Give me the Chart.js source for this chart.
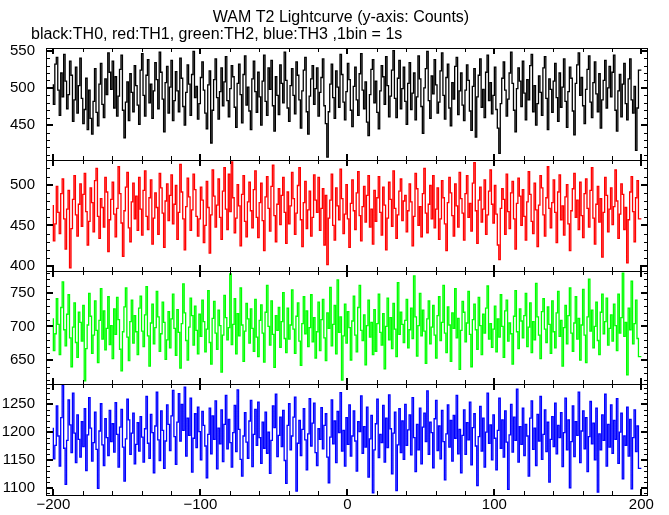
<!DOCTYPE html>
<html>
<head>
<meta charset="utf-8">
<script src="https://cdn.jsdelivr.net/npm/chart.js@4/dist/chart.umd.min.js"></script>
<style>
  body { margin: 0; background: #fff; }
  canvas { display: block; }
</style>
</head>
<body>
<canvas id="lc" width="669" height="515"></canvas>
<script>
// counts per 1 s bin, bins start at t = -200 .. 199
let th0 = [
  505, 478, 532, 541, 497, 463, 520, 488, 545, 509, 472, 491, 536, 517, 455, 484, 528, 466, 503, 540,
  486, 452, 471, 513, 444, 497, 459, 438, 482, 526, 467, 449, 505, 533, 478, 460, 512, 491, 547, 521,
  498, 536, 473, 515, 462, 489, 525, 544, 470, 433, 481, 508, 456, 519, 494, 468, 530, 503, 477, 451,
  524, 546, 490, 462, 517, 538, 480, 505, 459, 496, 534, 511, 472, 548, 521, 485, 441, 507, 529, 466,
  501, 537, 456, 483, 522, 496, 468, 540, 513, 475, 450, 494, 531, 505, 463, 518, 549, 487, 502, 458,
  479, 514, 535, 497, 466, 445, 504, 523, 426, 470, 511, 539, 487, 458, 495, 527, 476, 508, 542, 483,
  461, 499, 530, 515, 474, 447, 506, 532, 491, 453, 518, 543, 477, 501, 469, 444, 512, 536, 495, 467,
  521, 488, 450, 509, 544, 482, 463, 527, 498, 537, 476, 442, 515, 490, 464, 531, 506, 480, 548, 510,
  473, 455, 503, 526, 490, 465, 535, 517, 484, 446, 496, 524, 541, 468, 438, 489, 512, 530, 478, 499,
  527, 462, 494, 514, 539, 476, 452, 407, 468, 505, 532, 487, 459, 523, 501, 474, 545, 518, 481, 457,
  495, 533, 511, 470, 448, 502, 528, 484, 463, 519, 546, 497, 472, 508, 454, 436, 491, 525, 538, 480,
  509, 467, 445, 496, 530, 515, 478, 542, 503, 461, 489, 524, 550, 486, 460, 513, 537, 472, 499, 528,
  482, 451, 506, 534, 471, 493, 520, 457, 488, 543, 512, 475, 439, 500, 526, 549, 483, 459, 516, 492,
  538, 504, 466, 481, 523, 547, 490, 458, 514, 532, 473, 449, 507, 485, 529, 541, 464, 496, 520, 477,
  456, 497, 531, 510, 469, 443, 502, 526, 434, 488, 517, 539, 474, 498, 460, 521, 544, 483, 507, 465,
  490, 528, 471, 446, 412, 479, 513, 535, 497, 462, 485, 520, 548, 506, 470, 441, 499, 527, 509, 475,
  536, 493, 457, 511, 484, 530, 545, 468, 503, 450, 479, 516, 494, 463, 527, 542, 486, 444, 512, 498,
  467, 509, 533, 487, 455, 520, 474, 501, 539, 482, 447, 495, 528, 513, 469, 437, 506, 531, 547, 490,
  514, 476, 452, 498, 525, 543, 481, 460, 507, 535, 492, 468, 519, 446, 484, 510, 537, 473, 500, 529,
  488, 521, 544, 470, 442, 496, 518, 461, 505, 533, 479, 457, 512, 539, 484, 466, 502, 416, 473, 524
];
let th1 = [
  475, 431, 452, 498, 466, 440, 489, 507, 458, 421, 470, 493, 398, 446, 482, 511, 463, 437, 476, 501,
  449, 488, 514, 467, 426, 455, 496, 478, 442, 505, 520, 461, 434, 483, 472, 448, 509, 491, 418, 457,
  482, 503, 464, 436, 471, 522, 489, 453, 412, 468, 497, 515, 447, 430, 479, 502, 458, 486, 444, 509,
  470, 438, 493, 517, 461, 445, 484, 506, 427, 459, 490, 472, 439, 514, 496, 465, 423, 480, 501, 456,
  487, 512, 452, 476, 499, 433, 466, 525, 491, 458, 420, 473, 508, 485, 444, 469, 513, 494, 461, 437,
  458, 497, 481, 429, 450, 504, 472, 416, 463, 518, 486, 448, 475, 507, 460, 433, 492, 521, 470, 445,
  513, 467, 528, 484, 441, 459, 500, 474, 425, 488, 511, 455, 436, 479, 503, 468, 447, 494, 517, 460,
  435, 478, 502, 456, 419, 485, 510, 471, 443, 498, 524, 462, 430, 476, 495, 451, 487, 509, 466, 428,
  491, 452, 474, 515, 483, 439, 465, 499, 521, 457, 424, 478, 504, 446, 469, 492, 437, 460, 512, 481,
  466, 509, 444, 471, 495, 426, 487, 402, 459, 481, 513, 450, 432, 496, 474, 457, 519, 483, 440, 464,
  500, 458, 423, 477, 506, 468, 445, 490, 516, 462, 431, 473, 498, 454, 487, 511, 448, 470, 427, 493,
  455, 484, 510, 466, 438, 497, 475, 420, 459, 503, 482, 449, 517, 471, 434, 463, 492, 507, 456, 480,
  487, 442, 468, 501, 479, 425, 461, 514, 495, 450, 473, 436, 489, 520, 465, 441, 476, 499, 458, 511,
  447, 470, 496, 433, 458, 505, 484, 452, 419, 478, 509, 490, 462, 437, 501, 474, 448, 515, 483, 465,
  432, 489, 511, 460, 477, 443, 502, 527, 468, 428, 481, 497, 454, 470, 506, 439, 463, 492, 518, 476,
  453, 499, 464, 426, 408, 471, 495, 482, 439, 513, 467, 446, 490, 504, 458, 421, 477, 508, 486, 450,
  494, 461, 432, 479, 516, 488, 455, 440, 502, 469, 424, 475, 511, 496, 463, 437, 484, 522, 471, 447,
  478, 506, 466, 429, 491, 512, 457, 474, 438, 485, 500, 452, 419, 468, 495, 514, 460, 481, 445, 503,
  462, 435, 489, 507, 471, 448, 493, 521, 459, 427, 476, 498, 454, 483, 411, 466, 509, 487, 442, 470,
  496, 451, 473, 518, 480, 434, 464, 501, 488, 445, 472, 404, 457, 491, 510, 467, 430, 484, 505, 458
];
let th2 = [
  712, 664, 689, 741, 703, 658, 728, 766, 695, 671, 718, 747, 683, 640, 699, 735, 676, 654, 721, 706,
  678, 731, 619, 667, 702, 749, 715, 660, 687, 738, 694, 646, 709, 756, 681, 723, 665, 697, 744, 673,
  701, 652, 726, 688, 743, 710, 666, 634, 692, 729, 757, 684, 649, 707, 739, 675, 716, 692, 658, 727,
  745, 693, 670, 717, 759, 686, 641, 705, 733, 674, 698, 752, 714, 663, 689, 736, 706, 651, 680, 722,
  668, 711, 748, 697, 657, 725, 691, 638, 704, 763, 720, 679, 650, 699, 742, 716, 672, 730, 694, 659,
  718, 685, 739, 707, 662, 696, 753, 676, 644, 712, 737, 690, 666, 724, 701, 632, 687, 746, 713, 680,
  698, 778, 673, 703, 741, 659, 719, 686, 757, 702, 648, 693, 734, 711, 675, 726, 697, 663, 740, 684,
  655, 709, 732, 690, 647, 721, 761, 700, 672, 738, 688, 639, 716, 694, 728, 669, 707, 750, 682, 661,
  727, 681, 702, 754, 696, 660, 715, 735, 678, 642, 704, 744, 689, 723, 670, 698, 747, 677, 713, 653,
  692, 736, 664, 710, 740, 683, 649, 720, 697, 758, 671, 703, 731, 659, 769, 691, 714, 620, 686, 733,
  675, 722, 698, 650, 708, 745, 687, 662, 728, 761, 694, 679, 717, 643, 701, 739, 684, 706, 658, 725,
  663, 704, 748, 691, 672, 719, 637, 700, 742, 680, 713, 667, 734, 696, 655, 765, 688, 721, 703, 676,
  709, 740, 668, 695, 727, 682, 775, 714, 656, 701, 749, 686, 724, 693, 645, 711, 738, 674, 699, 731,
  687, 653, 716, 744, 679, 706, 761, 690, 661, 729, 702, 648, 720, 697, 756, 683, 712, 636, 694, 737,
  721, 677, 705, 752, 688, 640, 710, 733, 695, 666, 743, 701, 658, 718, 690, 727, 760, 681, 704, 669,
  696, 730, 662, 711, 684, 747, 700, 654, 723, 739, 678, 705, 689, 644, 715, 753, 692, 667, 726, 708,
  683, 716, 749, 670, 699, 735, 661, 707, 680, 764, 714, 687, 652, 722, 741, 696, 676, 729, 703, 660,
  738, 692, 668, 720, 752, 685, 709, 641, 698, 731, 674, 716, 757, 690, 663, 705, 744, 681, 712, 650,
  702, 755, 687, 646, 714, 770, 693, 724, 668, 700, 736, 679, 658, 721, 748, 689, 707, 742, 672, 697,
  717, 678, 733, 701, 664, 748, 690, 713, 779, 685, 706, 628, 727, 695, 767, 674, 704, 739, 682, 655
];
let th3 = [
  1208, 1152, 1176, 1247, 1193, 1139, 1226, 1284, 1171, 1106, 1185, 1258, 1213, 1163, 1270, 1198, 1145, 1231, 1187, 1155,
  1219, 1174, 1242, 1131, 1195, 1262, 1207, 1148, 1181, 1236, 1169, 1099, 1202, 1251, 1177, 1140, 1224, 1190, 1158, 1239,
  1183, 1215, 1164, 1253, 1196, 1137, 1209, 1241, 1173, 1112, 1188, 1259, 1222, 1160, 1198, 1234, 1143, 1178, 1217, 1166,
  1228, 1191, 1146, 1206, 1264, 1180, 1153, 1232, 1199, 1127, 1211, 1272, 1186, 1149, 1238, 1203, 1135, 1184, 1249, 1214,
  1167, 1229, 1275, 1192, 1142, 1218, 1269, 1184, 1250, 1203, 1281, 1157, 1225, 1194, 1261, 1128, 1189, 1233, 1172, 1245,
  1201, 1150, 1237, 1212, 1175, 1118, 1196, 1243, 1161, 1229, 1187, 1256, 1134, 1207, 1179, 1240, 1147, 1214, 1266, 1170,
  1223, 1181, 1137, 1199, 1248, 1165, 1276, 1205, 1151, 1121, 1193, 1235, 1182, 1153, 1220, 1257, 1138, 1196, 1241, 1176,
  1254, 1190, 1144, 1218, 1171, 1236, 1162, 1200, 1126, 1185, 1247, 1208, 1268, 1156, 1194, 1227, 1174, 1239, 1149, 1108,
  1212, 1251, 1168, 1193, 1227, 1263, 1094, 1180, 1221, 1158, 1205, 1242, 1186, 1132, 1197, 1260, 1175, 1216, 1252, 1163,
  1140, 1206, 1187, 1244, 1170, 1212, 1233, 1155, 1109, 1191, 1258, 1179, 1220, 1145, 1237, 1199, 1271, 1166, 1203, 1139,
  1226, 1178, 1249, 1157, 1193, 1238, 1184, 1130, 1219, 1201, 1265, 1162, 1210, 1173, 1245, 1119, 1188, 1230, 1091, 1168,
  1215, 1259, 1154, 1196, 1181, 1248, 1146, 1225, 1172, 1267, 1206, 1125, 1198, 1236, 1095, 1177, 1242, 1163, 1220, 1151,
  1250, 1176, 1204, 1231, 1159, 1262, 1190, 1129, 1214, 1168, 1243, 1143, 1209, 1234, 1183, 1274, 1160, 1218, 1199, 1136,
  1224, 1257, 1167, 1211, 1152, 1239, 1183, 1114, 1197, 1249, 1173, 1221, 1148, 1230, 1189, 1266, 1161, 1205, 1127, 1194,
  1240, 1160, 1217, 1186, 1254, 1141, 1208, 1233, 1175, 1104, 1192, 1246, 1166, 1225, 1137, 1200, 1270, 1180, 1213, 1150,
  1231, 1189, 1132, 1203, 1261, 1171, 1222, 1155, 1238, 1182, 1097, 1195, 1250, 1164, 1227, 1185, 1277, 1146, 1210, 1178,
  1243, 1158, 1214, 1193, 1121, 1225, 1256, 1169, 1207, 1140, 1232, 1184, 1264, 1151, 1196, 1240, 1165, 1218, 1110, 1187,
  1228, 1174, 1252, 1161, 1212, 1190, 1235, 1138, 1199, 1261, 1168, 1222, 1100, 1183, 1247, 1156, 1219, 1194, 1272, 1145,
  1202, 1238, 1170, 1226, 1129, 1192, 1255, 1179, 1216, 1150, 1243, 1092, 1197, 1168, 1231, 1185, 1268, 1139, 1214, 1173,
  1249, 1162, 1221, 1187, 1260, 1144, 1200, 1234, 1116, 1193, 1176, 1245, 1157, 1223, 1098, 1190, 1240, 1165, 1211, 1135
];

let series = [th0, th1, th2, th3];
let series_color = ['#000000', '#ff0000', '#00ff00', '#0000ff'];
let y_min = [403.5, 394.7, 614, 1087];
let y_max = [553.6, 530.6, 783, 1286];
let y_ticks = [[450, 500, 550], [400, 450, 500], [650, 700, 750], [1100, 1150, 1200, 1250]];
let x_ticks = [-200, -100, 0, 100, 200];
let panel_h = [112, 111, 114, 111];   // stack weights
let t_start = -200;                  // first bin edge, 1 s bins
let title = 'WAM T2 Lightcurve (y-axis: Counts)';
let subtitle = 'black:TH0, red:TH1, green:TH2, blue:TH3 ,1bin = 1s';

const FONT = 'Liberation Sans, Arial, sans-serif';

function toPoints(vals) {
    let pts = vals.map((v, i) => ({x: t_start + i, y: v}));
    pts.push({x: t_start + vals.length, y: vals[vals.length - 1]});   // close last bin
    return pts;
}

let datasets = [];
let scales = {
    x: {
        type: 'linear', min: -205, max: 204.5,
        grid: {display: false, drawTicks: false}, border: {display: false},
        afterBuildTicks: s => { s.ticks = x_ticks.map(v => ({value: v})); },
        ticks: {
            autoSkip: false, padding: 1, color: '#000',
            font: {family: FONT, size: 15},
            callback: v => String(v).replace('-', '\u2212')
        },
        afterFit: s => { s.height = 19; }
    }
};
for (let k = 0; k < 4; k++) {
    datasets.push({
        data: toPoints(series[k]),
        yAxisID: 'y' + k,
        borderColor: series_color[k],
        borderWidth: 1.3,
        pointRadius: 0,
        stepped: 'after',
        fill: false
    });
    scales['y' + k] = {
        type: 'linear', position: 'left', stack: 'lc',
        stackWeight: panel_h[k], weight: 4 - k,
        min: y_min[k], max: y_max[k],
        grid: {display: false, drawTicks: false}, border: {display: false},
        afterBuildTicks: s => { s.ticks = y_ticks[k].map(v => ({value: v})); },
        ticks: {
            autoSkip: false, padding: 11, color: '#000',
            font: {family: FONT, size: 15},
            callback: v => String(v)
        },
        afterFit: s => { s.width = 46; }
    };
}

// frames, inward tick marks and the two text lines
const frames = {
    id: 'frames',
    afterDraw(chart) {
        const ctx = chart.ctx;
        const ca = chart.chartArea;
        const xs = chart.scales.x;
        ctx.save();
        ctx.strokeStyle = '#000';
        ctx.fillStyle = '#000';
        for (let k = 0; k < 4; k++) {
            const ys = chart.scales['y' + k];
            const top = Math.round(ys.top), bot = Math.round(ys.bottom);
            ctx.lineWidth = 1;
            ctx.strokeRect(Math.round(ca.left) + 0.5, top + 0.5, Math.round(ca.right - ca.left) - 1, bot - top);
            // y ticks, every 10, long every 50
            for (let v = Math.ceil(ys.min / 10) * 10; v <= ys.max; v += 10) {
                const py = Math.round(ys.getPixelForValue(v));
                const major = v % 50 === 0;
                const len = major ? 7 : 4, w = major ? 2 : 1;
                ctx.fillRect(ca.left, py - (w > 1 ? 1 : 0), len, w);
                ctx.fillRect(ca.right - len, py - (w > 1 ? 1 : 0), len, w);
            }
            // x ticks, every 20, long every 100
            for (let t = -200; t <= 200; t += 20) {
                const px = Math.round(xs.getPixelForValue(t));
                const major = t % 100 === 0;
                const len = major ? 6 : 4, w = major ? 2 : 1;
                ctx.fillRect(px - (w > 1 ? 1 : 0), top, w, len);
                ctx.fillRect(px - (w > 1 ? 1 : 0), bot - len, w, len);
            }
        }
        ctx.font = '16px ' + FONT;
        ctx.textBaseline = 'middle';
        ctx.textAlign = 'center';
        ctx.fillText(title, (ca.left + ca.right) / 2 - 6, 18);
        ctx.textAlign = 'left';
        ctx.fillText(subtitle, 31, 35);
        ctx.restore();
    }
};

new Chart(document.getElementById('lc'), {
    type: 'line',
    data: {datasets: datasets},
    options: {
        responsive: false,
        animation: false,
        devicePixelRatio: 1,
        layout: {padding: {top: 48, right: 21, left: 0, bottom: 0}},
        plugins: {legend: {display: false}, tooltip: {enabled: false}, title: {display: false}},
        scales: scales
    },
    plugins: [frames]
});
</script>
</body>
</html>
